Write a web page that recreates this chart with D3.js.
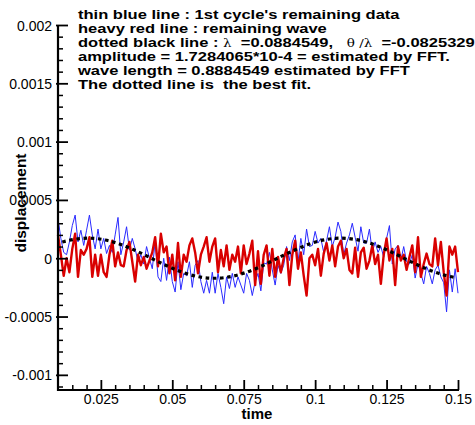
<!DOCTYPE html>
<html>
<head>
<meta charset="utf-8">
<script src="https://cdn.jsdelivr.net/npm/d3@7"></script>
<style>
  html, body { margin: 0; padding: 0; background: #fff; }
  svg { display: block; }
  text { font-family: "Liberation Sans", Arial, Helvetica, sans-serif; }
</style>
</head>
<body>
<svg id="chart" width="475" height="425"></svg>
<script>
// Values are in units of 1e-4 (displacement).
const UNIT = 1e-4;

// Sample times: 0.01 .. 0.15, every 0.001
const times = d3.range(141).map(i => +(0.01 + i * 0.001).toFixed(3));

// 1st cycle's remaining data (thin blue)
const blueValues = [
  3.4, 1.7, 0.5, 0.3, 1.4, 2.8, 3.7, 1.4, 2.4, 1.1,
  2.4, 3.7, 2.0, 0.8, 2.5, 0.8, 1.7, 0.4, 1.1, 0.5,
  2.0, 3.5, 0.3, 1.4, 2.7, 0.7, 1.7, 0.8, -0.3, 0.3,
  -0.5, 1.0, 0.0, -0.9, 1.4, -1.6, -2.0, 0.0, -1.9, 0.1,
  -2.0, -2.9, -0.3, -2.7, -1.3, -1.5, -0.3, -2.5, -0.6, -0.2,
  -2.0, -3.0, -1.9, -3.0, -1.2, -3.0, -1.3, -2.5, -3.9, -1.6,
  -2.6, -1.3, -2.5, -1.6, -2.3, -3.0, -1.3, -1.9, -3.2, -2.0,
  -1.3, -2.8, -0.4, -0.5, 0.5, -1.0, -2.3, -0.6, -1.3, -0.6,
  1.0, -0.2, 1.4, 2.0, -0.3, 1.7, 0.3, 2.5, 1.0, 1.1,
  2.3, 1.3, 1.7, 0.5, 1.5, 2.7, 1.0, 1.8, 3.1, 2.3,
  0.3, 1.3, 2.0, 3.0, 1.8, 0.6, 2.7, 1.3, 1.3, 2.5,
  0.5, 1.4, 0.5, 1.0, 0.1, 1.7, 2.8, -0.5, 0.8, 1.1,
  -0.2, 1.0, -0.3, -0.5, 0.3, -1.7, -0.5, -1.3, -2.2, -0.7,
  -1.3, -2.2, -1.0, -0.6, -1.6, -2.1, -4.6, -1.0, -2.9, -0.9,
  -3.0
];

// Remaining wave (heavy red)
const redValues = [
  2.0, 0.3, -1.5, 0.0, -1.2, 0.8, 2.1, -1.6, 0.7, 0.3,
  0.8, 1.8, -1.6, 0.3, -1.5, 0.3, -1.2, -1.6, 0.3, 1.5,
  -0.7, 0.5, -0.6, -0.7, 0.7, 1.4, -0.3, -2.0, 0.3, -0.6,
  0.1, -0.9, -0.2, 0.5, 1.8, -0.7, 2.1, 0.5, 1.0, -1.3,
  0.3, -1.9, 1.3, -1.6, 0.3, -0.3, 1.1, 1.7, 0.5, -1.3,
  0.3, 1.0, 1.8, -0.3, 1.0, 1.7, -1.2, 0.7, -0.7, 1.1,
  -1.0, 0.3, -0.3, 1.0, -1.3, 1.1, -0.5, 0.4, 1.5, -2.3,
  0.6, -2.2, 0.3, 1.1, -1.5, 0.8, -1.6, 0.1, -1.2, 0.0,
  0.8, -2.3, 0.3, 1.5, -0.9, 0.5, -1.5, -3.2, 0.0, 0.3,
  -0.6, 0.8, -1.5, 0.4, 1.3, -0.2, 1.1, -0.7, 1.0, 1.5,
  0.0, 0.8, -1.0, -1.3, 0.9, -1.6, 0.5, 0.9, -0.9, -0.2,
  1.1, -0.5, 0.3, -2.2, 0.3, 1.7, -0.2, 0.8, -2.3, 1.0,
  -0.2, 0.3, -1.0, 0.1, 1.1, -1.2, 1.8, -1.6, -0.5, 0.4,
  -0.5, -0.7, 1.7, -0.6, 1.4, -1.2, -3.2, 1.0, 0.3, 1.0,
  -1.2
];

// Best-fit wave (dotted black): amplitude 1.7284065e-4, wave length 0.0884549
const fitTimes = d3.range(56).map(i => +(0.0115 + i * 0.0025).toFixed(4));
const fitValues = [
  1.386, 1.547, 1.659, 1.718, 1.724, 1.676, 1.575, 1.425, 1.230, 0.994,
  0.731, 0.442, 0.138, -0.168, -0.470, -0.755, -1.017, -1.249, -1.444, -1.591,
  -1.686, -1.726, -1.713, -1.646, -1.528, -1.364, -1.159, -0.921, -0.654, -0.349,
  -0.044, 0.262, 0.560, 0.840, 1.094, 1.313, 1.491, 1.622, 1.702, 1.728,
  1.700, 1.619, 1.487, 1.309, 1.090, 0.835, 0.553, 0.254, -0.052, -0.356,
  -0.649, -0.918, -1.160, -1.368, -1.535, -1.655
];

// Axis ticks
const xTickValues = [0.025, 0.05, 0.075, 0.1, 0.125, 0.15];
const xTickLabels = ["0.025", "0.05", "0.075", "0.1", "0.125", "0.15"];
const yTickValues = [-0.001, -0.0005, 0, 0.0005, 0.001, 0.0015, 0.002];
const yTickLabels = ["-0.001", "-0.0005", "0", "0.0005", "0.001", "0.0015", "0.002"];

const headerLines = [
  "thin blue line : 1st cycle's remaining data",
  "heavy red line : remaining wave",
  null,
  "amplitude = 1.7284065*10-4 = estimated by FFT.",
  "wave length = 0.8884549 estimated by FFT",
  "The dotted line is  the best fit."
];

const svg = d3.select("#chart");
svg.append("rect").attr("width", 475).attr("height", 425).attr("fill", "#fff");

const x = d3.scaleLinear().domain([0.01, 0.15]).range([58, 458]);
const y = d3.scaleLinear().domain([-0.00113, 0.002]).range([390, 25]);

// plotted curves
const line = d3.line()
  .x(d => x(d[0]))
  .y(d => y(d[1] * UNIT));

const plot = svg.append("g");
plot.append("path")
  .datum(times.map((t, i) => [t, blueValues[i]]))
  .attr("d", line)
  .attr("fill", "none")
  .attr("stroke", "#2a2aff")
  .attr("stroke-width", 1)
  .attr("stroke-linejoin", "round");

plot.append("path")
  .datum(times.map((t, i) => [t, redValues[i]]))
  .attr("d", line)
  .attr("fill", "none")
  .attr("stroke", "#d90000")
  .attr("stroke-width", 2.4)
  .attr("stroke-linejoin", "round");

plot.append("path")
  .datum(fitTimes.map((t, i) => [t, fitValues[i]]))
  .attr("d", line.curve(d3.curveBasis))
  .attr("fill", "none")
  .attr("stroke", "#000")
  .attr("stroke-width", 3.2)
  .attr("stroke-dasharray", "3.6,3.6");

// axes (Tecplot-style inward ticks)
const xMinor = d3.range(0.015, 0.1501, 0.005).filter(v => !xTickValues.some(m => Math.abs(m - v) < 1e-9));
const yMinor = d3.range(-0.0011, 0.00201, 0.0001).filter(v => !yTickValues.some(m => Math.abs(m - v) < 1e-9));

const gx = svg.append("g").attr("transform", "translate(0,390)");
gx.call(d3.axisBottom(x).tickValues(xMinor).tickSize(-5).tickFormat(""));
gx.call(g => g.selectAll(".tick line").attr("stroke-width", 1.5));
const gxMaj = svg.append("g").attr("transform", "translate(0,390)");
gxMaj.call(d3.axisBottom(x).tickValues(xTickValues).tickSize(-10).tickPadding(4)
  .tickFormat((d, i) => xTickLabels[i]));
gxMaj.selectAll(".tick line").attr("stroke-width", 1.8);
gxMaj.selectAll(".tick text").attr("font-size", 14).attr("fill", "#000")
  .attr("font-family", "Liberation Sans, Arial, sans-serif").attr("dy", null).attr("y", 14);

const gy = svg.append("g").attr("transform", "translate(58,0)");
gy.call(d3.axisLeft(y).tickValues(yMinor).tickSize(-5).tickFormat(""));
gy.call(g => g.selectAll(".tick line").attr("stroke-width", 1.5));
const gyMaj = svg.append("g").attr("transform", "translate(58,0)");
gyMaj.call(d3.axisLeft(y).tickValues(yTickValues).tickSize(-10).tickPadding(6)
  .tickFormat((d, i) => yTickLabels[i]));
gyMaj.selectAll(".tick line").attr("x1", -2).attr("stroke-width", 1.8);
gyMaj.selectAll(".tick text").attr("font-size", 14).attr("fill", "#000")
  .attr("font-family", "Liberation Sans, Arial, sans-serif").attr("dy", "0.36em");

[gx, gxMaj, gy, gyMaj].forEach(g => g.select(".domain").remove());
svg.append("line").attr("x1", 58).attr("x2", 58).attr("y1", 25).attr("y2", 391)
  .attr("stroke", "#000").attr("stroke-width", 2.2);
svg.append("line").attr("x1", 57).attr("x2", 459).attr("y1", 390).attr("y2", 390)
  .attr("stroke", "#000").attr("stroke-width", 2.2);

// axis titles
svg.append("text").attr("x", 257).attr("y", 419).attr("text-anchor", "middle")
  .attr("font-size", 15).attr("font-weight", "bold").text("time");
svg.append("text").attr("transform", "translate(26,203) rotate(-90)").attr("text-anchor", "middle")
  .attr("font-size", 15.5).attr("font-weight", "bold").text("displacement");

// header text block
const header = svg.append("g").attr("transform", "translate(78,0) scale(1.225,1)");
headerLines.forEach((s, i) => {
  const t = header.append("text").attr("x", 0).attr("y", 19 + i * 14)
    .attr("font-size", 13.5).attr("font-weight", "bold").style("white-space", "pre");
  if (s !== null) { t.text(s); return; }
  const greek = "DejaVu Serif, Liberation Serif, serif";
  t.append("tspan").text("dotted black line : ");
  t.append("tspan").attr("font-family", greek).attr("font-weight", "normal").attr("font-size", 11).text("\u03bb");
  t.append("tspan").text("  =0.0884549,   ");
  t.append("tspan").attr("font-family", greek).attr("font-weight", "normal").attr("font-size", 11).text("\u03b8");
  t.append("tspan").attr("font-family", greek).attr("font-weight", "normal").attr("font-size", 11).text(" /\u03bb");
  t.append("tspan").text("  =-0.0825329");
});
</script>
</body>
</html>
